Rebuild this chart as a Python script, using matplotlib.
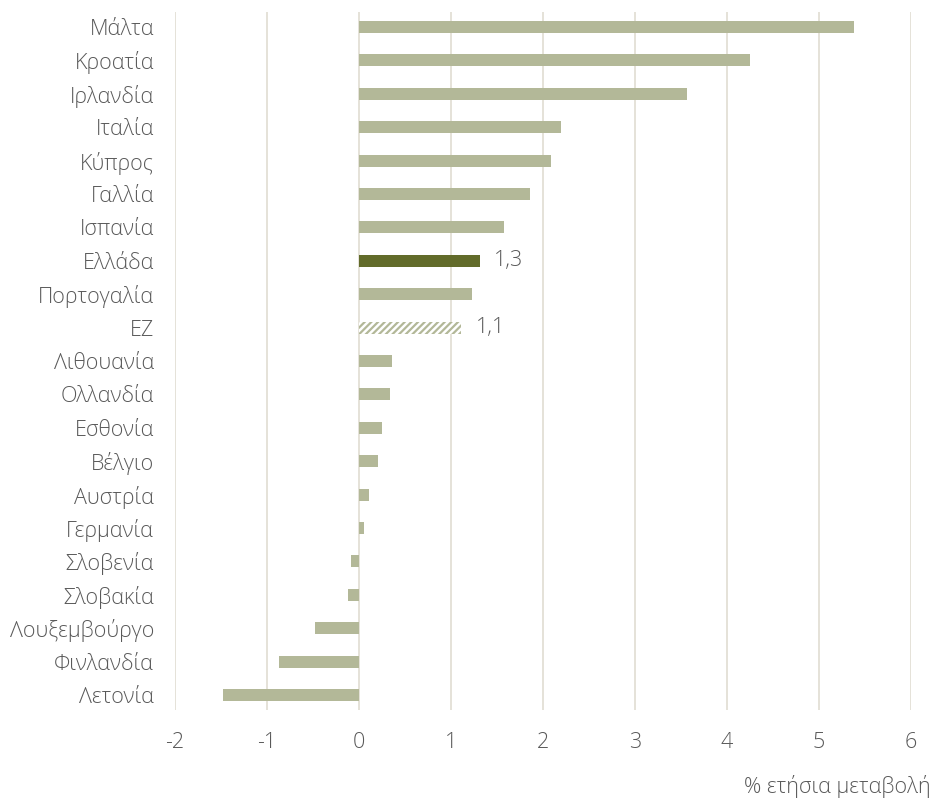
import numpy as np
import matplotlib.pyplot as plt
import matplotlib as mpl

plt.rcParams['font.family'] = ['Open Sans', 'DejaVu Sans']
mpl.rcParams['hatch.linewidth'] = 1.6

# Data (% annual change)
countries = ['Μάλτα', 'Κροατία', 'Ιρλανδία', 'Ιταλία', 'Κύπρος', 'Γαλλία',
             'Ισπανία', 'Ελλάδα', 'Πορτογαλία', 'ΕΖ', 'Λιθουανία', 'Ολλανδία',
             'Εσθονία', 'Βέλγιο', 'Αυστρία', 'Γερμανία', 'Σλοβενία', 'Σλοβακία',
             'Λουξεμβούργο', 'Φινλανδία', 'Λετονία']
values = [5.38, 4.25, 3.57, 2.2, 2.09, 1.86, 1.58, 1.31, 1.23, 1.11, 0.36, 0.34,
          0.25, 0.21, 0.11, 0.05, -0.09, -0.12, -0.48, -0.87, -1.48]
labels = {'Ελλάδα': '1,3', 'ΕΖ': '1,1'}

LIGHT = '#b3b898'
DARK = '#626b2a'
GRID = '#e3dfd6'
TEXT = '#595959'
FS = 15.5

fig = plt.figure(figsize=(9.33, 8.01), dpi=100)
ax = fig.add_axes([0.1876, 0.1136, 0.7888, 0.8714])

y = np.arange(len(countries))
for yi, name, v in zip(y, countries, values):
    if name == 'Ελλάδα':
        ax.barh(yi, v, height=0.36, color=DARK, zorder=3)
    elif name == 'ΕΖ':
        ax.barh(yi, v, height=0.36, color='white', edgecolor=LIGHT,
                hatch='/////', linewidth=0, zorder=3)
    else:
        ax.barh(yi, v, height=0.36, color=LIGHT, zorder=3)
    if name in labels:
        ax.text(v + 0.16, yi, labels[name], va='center', ha='left',
                fontsize=FS, color=TEXT, fontweight='light')

ax.set_xlim(-2, 6)
ax.set_ylim(len(countries) - 0.55, -0.45)
ax.set_xticks(range(-2, 7))
ax.set_xticklabels([str(t) for t in range(-2, 7)])
ax.set_yticks(y)
ax.set_yticklabels(countries)
ax.grid(axis='x', color=GRID, linewidth=1.3, zorder=0)
ax.tick_params(length=0, labelsize=FS, colors=TEXT, pad=15)
ax.tick_params(axis='x', pad=16)
for lbl in ax.get_xticklabels() + ax.get_yticklabels():
    lbl.set_fontweight('light')
for s in ax.spines.values():
    s.set_visible(False)

fig.text(0.997, 0.0175, '% ετήσια μεταβολή', ha='right', va='center',
         fontsize=FS, color=TEXT, fontweight='light')

fig.savefig('out.png', dpi=100)
